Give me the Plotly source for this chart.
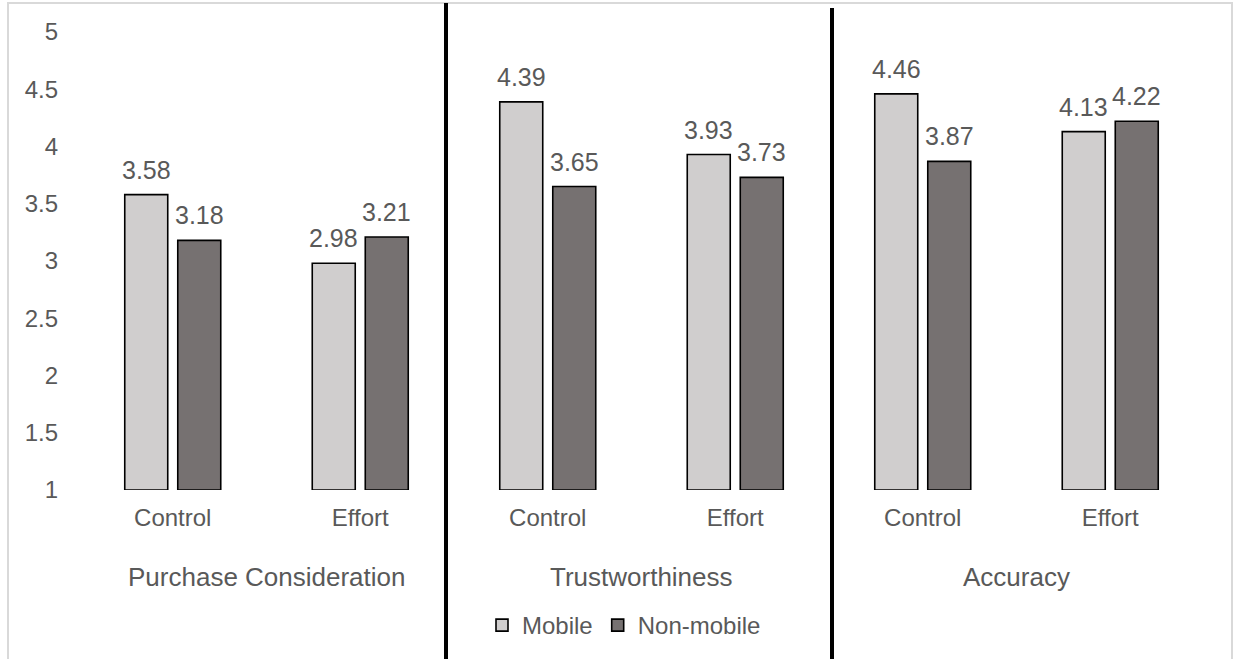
import plotly.graph_objects as go

# Survey means on a 1-5 scale, by measure, condition and device group
panels = ["Purchase Consideration", "Trustworthiness", "Accuracy"]
conditions = ["Control", "Effort"]
series_names = ["Mobile", "Non-mobile"]
mobile = [3.58, 2.98, 4.39, 3.93, 4.46, 4.13]
non_mobile = [3.18, 3.21, 3.65, 3.73, 3.87, 4.22]
y_ticks = [1, 1.5, 2, 2.5, 3, 3.5, 4, 4.5, 5]

W, H = 1235, 659
ML, MR, MT, MB = 79, 31, 32, 169
PW, PH = W - ML - MR, H - MT - MB

TEXT = "#595959"
FONT = "Liberation Sans, Arial, sans-serif"
FILLS = ["#D0CECE", "#767171"]

# one slot per panel/condition pair
x_pos = list(range(len(panels) * len(conditions)))
tick_text = [c for _ in panels for c in conditions]

slot = 0.2827          # width reserved for each bar inside a group
bar_w = 0.2293         # drawn bar width
offsets = [-slot, 0.0]  # left edge of each series' slot relative to centre

fig = go.Figure()
for name, vals, fill, off in zip(series_names, [mobile, non_mobile], FILLS, offsets):
    fig.add_trace(go.Bar(
        name=name, x=x_pos, y=[v - 1 for v in vals], base=1,
        width=bar_w, offset=off + (slot - bar_w) / 2,
        marker=dict(color=fill, line=dict(color="#000000", width=1.6)),
        hoverinfo="skip",
    ))
    # value labels above each bar
    for x, v in zip(x_pos, vals):
        fig.add_annotation(
            x=x + off + slot / 2, y=v, xref="x", yref="y",
            text=f"{v:.2f}", showarrow=False, yanchor="bottom", yshift=9,
            font=dict(family=FONT, size=25, color=TEXT),
        )

# measure names under each pair of conditions
for i, p in enumerate(panels):
    fig.add_annotation(
        x=i * len(conditions) + (len(conditions) - 1) / 2, y=-87 / PH,
        xref="x", yref="paper", text=p, showarrow=False, yanchor="middle",
        font=dict(family=FONT, size=26, color=TEXT),
    )


def px_x(p):
    return (p - ML) / PW


def px_y(p):
    return (MT + PH - p) / PH


# outer frame
fig.add_shape(type="rect", xref="paper", yref="paper",
              x0=px_x(8), x1=px_x(1232), y0=px_y(700), y1=px_y(3),
              line=dict(color="#D9D9D9", width=2), fillcolor="rgba(0,0,0,0)", layer="below")

# dividers between measures
for xp, top in [(446, 3), (832, 8)]:
    fig.add_shape(type="line", xref="paper", yref="paper",
                  x0=px_x(xp), x1=px_x(xp), y0=px_y(top), y1=px_y(700),
                  line=dict(color="#000000", width=4))

fig.update_layout(
    width=W, height=H,
    margin=dict(l=ML, r=MR, t=MT, b=MB, autoexpand=False),
    paper_bgcolor="white", plot_bgcolor="white",
    barmode="overlay",
    font=dict(family=FONT, color=TEXT),
    xaxis=dict(
        range=[-0.5, len(x_pos) - 0.5], tickvals=x_pos, ticktext=tick_text,
        showgrid=False, zeroline=False, showline=False, ticks="",
        tickfont=dict(size=24, color=TEXT), ticklabelstandoff=11,
    ),
    yaxis=dict(
        range=[1, 5], tickvals=y_ticks,
        showgrid=False, zeroline=False, showline=False, ticks="",
        tickfont=dict(size=24, color=TEXT), ticklabelstandoff=20,
    ),
    legend=dict(
        orientation="h", x=px_x(624), xanchor="center", y=px_y(603), yanchor="top",
        font=dict(size=24, color=TEXT), traceorder="normal",
        itemclick=False, itemdoubleclick=False,
    ),
    showlegend=True,
)

fig.write_html("out.html")
